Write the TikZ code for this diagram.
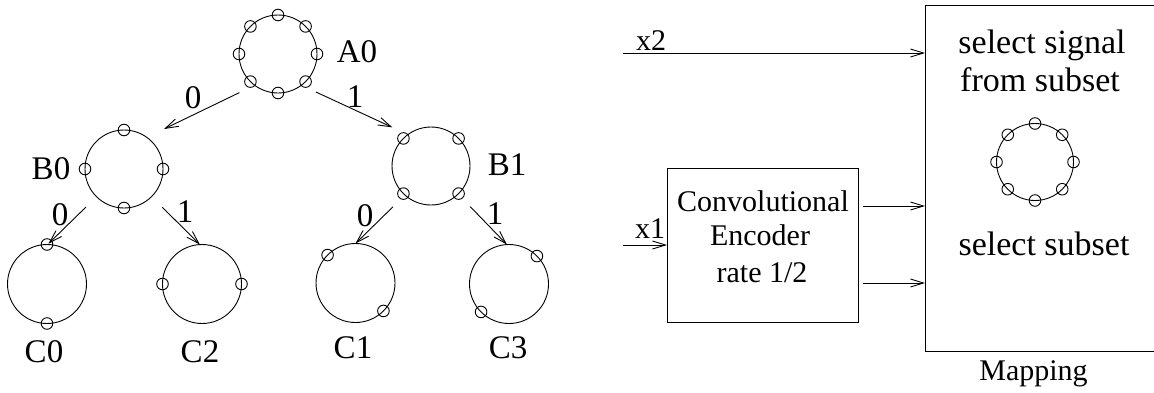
\documentclass[tikz,border=0pt]{standalone}
\usepackage{fontspec}
\setmainfont{Liberation Serif}
\usetikzlibrary{arrows.meta,calc}
\tikzset{
  ring/.style={circle,draw,inner sep=0pt,outer sep=0pt,minimum size=#1},
  arr/.style={-{Straight Barb[length=13pt,width=8pt]}},
  lbl/.style={font=\fontsize{33}{36}\selectfont, inner sep=0pt, anchor=base},
  enctxt/.style={font=\fontsize{30}{36}\selectfont, inner sep=0pt, anchor=base},
  maptxt/.style={font=\fontsize{34}{38}\selectfont, inner sep=0pt, anchor=base},
  dot/.style={radius=5.8pt},
}
\begin{document}
\begin{tikzpicture}[x=1pt,y=-1pt,line width=0.9pt]
\useasboundingbox (0,0) rectangle (1154,392);
% tree rings
\node[ring=78] (A0) at (278,54) {};
\foreach \a in {0,45,...,315} \draw (A0.\a) circle[dot];
\node[ring=78] (B0) at (124,169) {};
\foreach \a in {0,90,180,270} \draw (B0.\a) circle[dot];
\node[ring=78] (B1) at (431,166) {};
\foreach \a in {45,135,225,315} \draw (B1.\a) circle[dot];
\node[ring=79] (C0) at (47,284) {};
\foreach \a in {90,270} \draw (C0.\a) circle[dot];
\node[ring=79] (C2) at (202,284) {};
\foreach \a in {0,180} \draw (C2.\a) circle[dot];
\node[ring=79] (C1) at (355.5,283) {};
\foreach \a in {135,315} \draw (C1.\a) circle[dot];
\node[ring=79] (C3) at (509,284) {};
\foreach \a in {45,225} \draw (C3.\a) circle[dot];
% tree labels
\node[lbl] (tA0) at (357,62) {A0};
\node[lbl] (tB0) at (51,179) {B0};
\node[lbl] (tB1) at (507,175) {B1};
\node[lbl] (tC0) at (44,362) {C0};
\node[lbl] (tC2) at (200,362) {C2};
\node[lbl] (tC1) at (353,358) {C1};
\node[lbl] (tC3) at (508,358) {C3};
% tree arrows
\draw[arr] ($(A0.center)!1.40!(A0.225)$) -- ($(B0.center)!1.45!(B0.45)$);
\draw[arr] ($(A0.center)!1.38!(A0.315)$) -- ($(B1.center)!1.40!(B1.135)$);
\draw[arr] ($(B0.center)!1.38!(B0.225)$) -- ($(C0.center)!1.02!(C0.88)$);
\draw[arr] ($(B0.center)!1.39!(B0.315)$) -- ($(C2.center)!1.0!(C2.93)$);
\draw[arr] ($(B1.center)!1.43!(B1.227)$) -- ($(C1.center)!1.0!(C1.90)$);
\draw[arr] ($(B1.center)!1.45!(B1.314)$) -- ($(C3.center)!1.0!(C3.93)$);
\node[lbl] (e1) at (193,108) {0};
\node[lbl] (e2) at (355,107) {1};
\node[lbl] (e3) at (60,225) {0};
\node[lbl] (e4) at (185,222) {1};
\node[lbl] (e5) at (365,226) {0};
\node[lbl] (e6) at (495,224) {1};
% encoder
\node[draw, minimum width=191, minimum height=154, inner sep=0pt, outer sep=0pt] (enc) at (762.5,245) {};
\node[enctxt] (t1) at (763,211) {Convolutional};
\node[enctxt] (t2) at (760,245) {Encoder};
\node[enctxt] (t3) at (762,282) {rate 1/2};
% mapping box
\begin{scope}
\clip (0,0) rectangle (1154,392);
\node[draw, minimum width=245, minimum height=346, inner sep=0pt, outer sep=0pt, anchor=north west] (map) at (925,5) {};
\end{scope}
\node[maptxt] (m1) at (1042,53) {select signal};
\node[maptxt] (m2) at (1040,91) {from subset};
\node[maptxt] (m3) at (1044,255) {select subset};
\node[lbl, font=\fontsize{30}{32}\selectfont] (ml) at (1033.5,380) {Mapping};
\node[ring=77] (R) at (1035,162) {};
\foreach \a in {0,45,...,315} \draw (R.\a) circle[dot];
% inputs and connections
\coordinate (x2in) at (623,53);
\coordinate (x1in) at (623,245);
\coordinate (o1) at (863,206);
\coordinate (o2) at (863,283);
\draw[arr] (x2in) -- (x2in -| map.west);
\draw[arr] (x1in) -- (x1in -| enc.west);
\draw[arr] (o1) -- (o1 -| map.west);
\draw[arr] (o2) -- (o2 -| map.west);
\node[enctxt] (lx2) at (651,50) {x2};
\node[enctxt] (lx1) at (650,238) {x1};
\end{tikzpicture}
\end{document}
